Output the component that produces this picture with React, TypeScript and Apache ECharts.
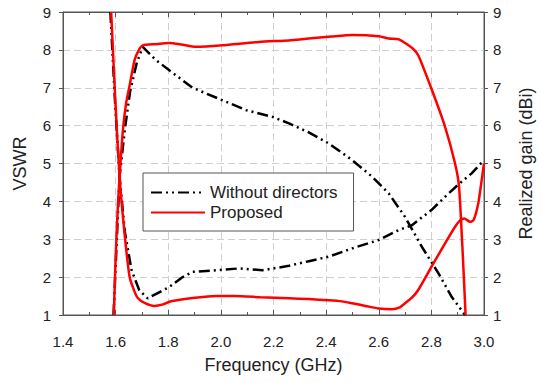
import React, { useEffect, useRef } from "react";
import * as echarts from "echarts";

// Frequency (GHz) / value pairs
const redVswrFreq = [1.583, 1.6, 1.615, 1.634, 1.653, 1.67, 1.684, 1.71, 1.747, 1.78, 1.804, 1.85, 1.892, 1.95, 1.981, 2.05, 2.15, 2.259, 2.334, 2.41, 2.46, 2.499, 2.55, 2.6, 2.65, 2.68, 2.7, 2.725, 2.75, 2.8, 2.852, 2.89, 2.909, 2.925, 2.947, 2.96, 2.978, 2.99, 3.0];
const redVswrVal = [9.0, 6.5, 4.65, 3.15, 2.01, 1.65, 1.45, 1.32, 1.24, 1.28, 1.35, 1.41, 1.45, 1.49, 1.5, 1.5, 1.47, 1.44, 1.42, 1.39, 1.36, 1.31, 1.24, 1.17, 1.15, 1.2, 1.31, 1.45, 1.66, 2.27, 2.89, 3.33, 3.5, 3.55, 3.46, 3.5, 3.94, 4.5, 5.0];

const redGainFreq = [1.593, 1.6, 1.608, 1.615, 1.628, 1.64, 1.653, 1.672, 1.69, 1.703, 1.75, 1.804, 1.85, 1.905, 2.006, 2.145, 2.259, 2.334, 2.42, 2.499, 2.6, 2.638, 2.675, 2.7, 2.73, 2.75, 2.8, 2.852, 2.89, 2.905, 2.92, 2.93];
const redGainVal = [1.0, 2.5, 3.8, 4.65, 5.9, 6.6, 7.05, 7.73, 8.02, 8.12, 8.15, 8.18, 8.14, 8.08, 8.12, 8.21, 8.25, 8.3, 8.35, 8.39, 8.36, 8.3, 8.28, 8.18, 8.03, 7.86, 6.98, 5.97, 5.0, 4.4, 2.5, 1.0];

const blackVswrFreq = [1.58, 1.598, 1.615, 1.635, 1.66, 1.69, 1.722, 1.76, 1.804, 1.85, 1.892, 1.981, 2.07, 2.158, 2.259, 2.334, 2.41, 2.499, 2.6, 2.675, 2.726, 2.8, 2.852, 2.9, 2.953, 3.0];
const blackVswrVal = [9.0, 6.6, 4.65, 3.2, 2.2, 1.65, 1.44, 1.58, 1.74, 1.98, 2.14, 2.18, 2.23, 2.18, 2.3, 2.42, 2.54, 2.76, 2.98, 3.24, 3.37, 3.77, 4.12, 4.43, 4.74, 5.09];

const blackGainFreq = [1.592, 1.615, 1.635, 1.655, 1.68, 1.703, 1.75, 1.804, 1.892, 2.006, 2.095, 2.196, 2.259, 2.334, 2.41, 2.499, 2.575, 2.638, 2.7, 2.764, 2.827, 2.877, 2.928];
const blackGainVal = [1.0, 4.65, 5.9, 6.9, 7.65, 8.08, 7.75, 7.46, 7.0, 6.67, 6.41, 6.23, 6.06, 5.82, 5.53, 5.09, 4.65, 4.21, 3.59, 2.8, 2.1, 1.48, 1.0];

const seriesNames = ["Without directors", "Proposed"];
const xLabel = "Frequency (GHz)";
const yLeftLabel = "VSWR";
const yRightLabel = "Realized gain (dBi)";

const FONT = "'Liberation Sans', Arial, sans-serif";

function pairs(xs: number[], ys: number[]) {
  return xs.map((x, i) => [x, ys[i]]);
}

export default function App() {
  const ref = useRef<HTMLDivElement>(null);
  useEffect(() => {
    if (!ref.current) return;
    const chart = echarts.init(ref.current, null, { renderer: "svg" });
    const blackStyle = { color: "#000", width: 2.5, type: [11, 4, 2, 4, 2, 4] as number[] };
    const redStyle = { color: "#ff0000", width: 2.5, type: "solid" as const };
    const splitLine = { show: true, lineStyle: { color: "#cfcfcf", type: [7, 4] as number[], width: 1 } };
    chart.setOption({
      animation: false,
      backgroundColor: "#fff",
      textStyle: { fontFamily: FONT },
      grid: { left: 63, right: 57, top: 12, bottom: 68, show: true, borderColor: "#555", borderWidth: 1 },
      legend: {
        orient: "vertical",
        left: 143,
        top: 173,
        data: seriesNames,
        backgroundColor: "#fff",
        borderColor: "#555",
        borderWidth: 1,
        borderRadius: 0,
        padding: [11, 16, 10, 7],
        itemGap: 3,
        itemWidth: 54,
        itemHeight: 14,
        itemTextGap: 13,
        itemStyle: { color: "rgba(0,0,0,0)", borderColor: "rgba(0,0,0,0)", borderWidth: 0 },
        textStyle: { fontFamily: FONT, fontSize: 17, color: "#222", lineHeight: 17 },
      },
      xAxis: [
        {
          type: "value",
          min: 1.4,
          max: 3.0,
          interval: 0.2,
          position: "bottom",
          name: xLabel,
          nameLocation: "middle",
          nameGap: 41,
          nameTextStyle: { fontFamily: FONT, fontSize: 18, color: "#222" },
          axisLine: { show: true, lineStyle: { color: "#555" } },
          axisTick: { show: true, inside: true, length: 5, lineStyle: { color: "#555" } },
          minorTick: { show: true, splitNumber: 2, length: 3, lineStyle: { color: "#555" } },
          axisLabel: { fontFamily: FONT, fontSize: 15, color: "#222", margin: 19, formatter: (v: number) => v.toFixed(1) },
          splitLine,
        },
        {
          type: "value",
          min: 1.4,
          max: 3.0,
          interval: 0.2,
          position: "top",
          axisLine: { show: true, lineStyle: { color: "#555" } },
          axisTick: { show: true, inside: true, length: 5, lineStyle: { color: "#555" } },
          minorTick: { show: true, splitNumber: 2, length: 3, lineStyle: { color: "#555" } },
          axisLabel: { show: false },
          splitLine: { show: false },
        },
      ],
      yAxis: [
        {
          type: "value",
          min: 1,
          max: 9,
          interval: 1,
          position: "left",
          name: yLeftLabel,
          nameLocation: "middle",
          nameGap: 34,
          nameRotate: 90,
          nameTextStyle: { fontFamily: FONT, fontSize: 18, color: "#222" },
          axisLine: { show: true, lineStyle: { color: "#555" } },
          axisTick: { show: true, inside: false, length: 4, lineStyle: { color: "#555" } },
          axisLabel: { fontFamily: FONT, fontSize: 15, color: "#222", margin: 12 },
          splitLine,
        },
        {
          type: "value",
          min: 1,
          max: 9,
          interval: 1,
          position: "right",
          name: yRightLabel,
          nameLocation: "middle",
          nameGap: 33,
          nameRotate: 90,
          nameTextStyle: { fontFamily: FONT, fontSize: 18, color: "#222" },
          axisLine: { show: true, lineStyle: { color: "#555" } },
          axisTick: { show: true, inside: false, length: 4, lineStyle: { color: "#555" } },
          axisLabel: { fontFamily: FONT, fontSize: 15, color: "#222", margin: 9 },
          splitLine: { show: false },
        },
      ],
      series: [
        {
          name: seriesNames[0], type: "line", xAxisIndex: 0, yAxisIndex: 0, symbol: "none",
          data: pairs(blackVswrFreq, blackVswrVal), lineStyle: blackStyle, itemStyle: { color: "#000" }, z: 3,
        },
        {
          name: seriesNames[0], type: "line", xAxisIndex: 0, yAxisIndex: 1, symbol: "none",
          data: pairs(blackGainFreq, blackGainVal), lineStyle: blackStyle, itemStyle: { color: "#000" }, z: 3,
        },
        {
          name: seriesNames[1], type: "line", xAxisIndex: 0, yAxisIndex: 0, symbol: "none", smooth: 0.2,
          data: pairs(redVswrFreq, redVswrVal), lineStyle: redStyle, itemStyle: { color: "#ff0000" }, z: 4,
        },
        {
          name: seriesNames[1], type: "line", xAxisIndex: 0, yAxisIndex: 1, symbol: "none", smooth: 0.2,
          data: pairs(redGainFreq, redGainVal), lineStyle: redStyle, itemStyle: { color: "#ff0000" }, z: 4,
        },
      ],
    });
    return () => chart.dispose();
  }, []);
  return <div ref={ref} style={{ position: "fixed", left: 0, top: 0, width: 543, height: 383 }} />;
}
